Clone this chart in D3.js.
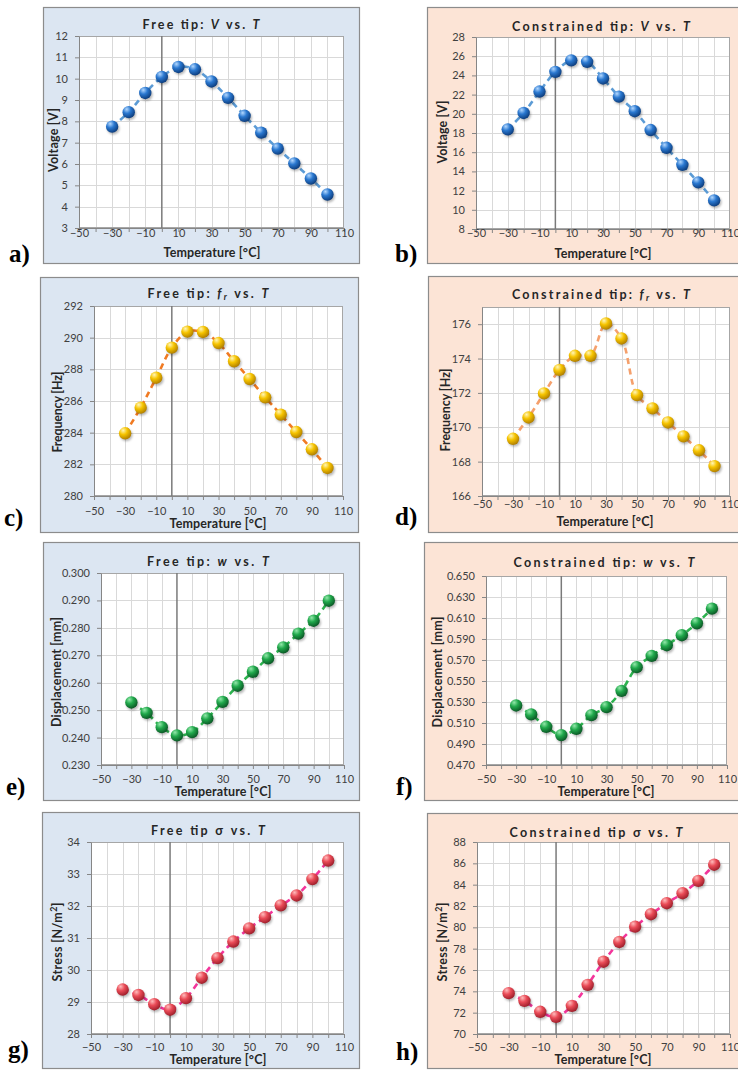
<!DOCTYPE html>
<html><head><meta charset="utf-8">
<script src="https://cdn.jsdelivr.net/npm/d3@7"></script>
<style>
body{margin:0;background:#fff}
svg{display:block}
</style>
</head><body>
<svg id="c" width="738" height="1075" font-family="Lato, 'Open Sans', sans-serif"></svg>
<script>
// ---------------- data ----------------
const temps = [-30,-20,-10,0,10,20,30,40,50,60,70,80,90,100];
const xTickLabels = [-50,-30,-10,10,30,50,70,90,110];
const xMinorTicks = [-50,-40,-30,-20,-10,0,10,20,30,40,50,60,70,80,90,100,110];

const voltFree = [7.75,8.43,9.33,10.08,10.55,10.44,9.87,9.10,8.26,7.47,6.72,6.03,5.32,4.57];
const voltCon  = [18.38,20.09,22.32,24.37,25.57,25.42,23.68,21.79,20.27,18.31,16.46,14.68,12.86,10.98];
const freqFree = [283.96,285.58,287.47,289.37,290.38,290.36,289.66,288.51,287.39,286.23,285.14,284.04,282.95,281.77];
const freqCon  = [169.33,170.57,171.97,173.34,174.16,174.16,176.04,175.17,171.87,171.10,170.28,169.47,168.66,167.74];
const dispFree = [0.2528,0.2490,0.2438,0.2408,0.2420,0.2470,0.2530,0.2589,0.2640,0.2689,0.2729,0.2779,0.2826,0.2899];
const dispCon  = [0.5267,0.5182,0.5064,0.4985,0.5045,0.5175,0.5251,0.5406,0.5632,0.5739,0.5841,0.5936,0.6050,0.6189];
const stressFree = [29.39,29.22,28.93,28.76,29.12,29.76,30.37,30.89,31.30,31.65,32.02,32.33,32.84,33.42];
const stressCon  = [73.83,73.11,72.08,71.61,72.64,74.61,76.78,78.63,80.07,81.23,82.26,83.20,84.36,85.87];

const voltFreeTicks = [3,4,5,6,7,8,9,10,11,12];
const voltConTicks  = [8,10,12,14,16,18,20,22,24,26,28];
const freqFreeTicks = [280,282,284,286,288,290,292];
const freqConTicks  = [166,168,170,172,174,176];
const dispFreeTicks = [0.230,0.240,0.250,0.260,0.270,0.280,0.290,0.300];
const dispConTicks  = [0.470,0.490,0.510,0.530,0.550,0.570,0.590,0.610,0.630,0.650];
const stressFreeTicks = [28,29,30,31,32,33,34];
const stressConTicks  = [70,72,74,76,78,80,82,84,86,88];

const panelLetters = ["a)","b)","c)","d)","e)","f)","g)","h)"];
const xTitle = "Temperature [°C]";

// ---------------- layout / style ----------------
const BLUE_BG = "#dce6f2", PEACH_BG = "#fce4d6";
const schemes = {
  blue:   {hi:"#b3d8ff", mid:"#2a78d0", dark:"#0c3c7c"},
  yellow: {hi:"#fff6b8", mid:"#f6c400", dark:"#b07e00"},
  green:  {hi:"#93e8aa", mid:"#20a84b", dark:"#0a5725"},
  red:    {hi:"#ffbcbc", mid:"#ea4b57", dark:"#9e1e2a"}
};

const panels = [
  {vals:voltFree, ticks:voltFreeTicks, dom:[3,12], fmt:"d", bg:BLUE_BG, sch:"blue", line:"#5b9bd5",
   title:[["Free tip: "],["V","i"],[" vs. "],["T","i"]], tx:201, ty:29, tw:117,
   ylab:[["Voltage [V]"]], ylw:64, box:[43,7,359,263], plot:[79,36,344,228],
   lblY:237, xtY:257, xtX:212, ytX:53, ytY:140, letter:[9,262]},
  {vals:voltCon, ticks:voltConTicks, dom:[8,28], fmt:"d", bg:PEACH_BG, sch:"blue", line:"#5b9bd5",
   title:[["Constrained tip: "],["V","i"],[" vs. "],["T","i"]], tx:601, ty:31, tw:178,
   ylab:[["Voltage [V]"]], ylw:63, box:[427,7,775,263], plot:[476,37,730,229],
   lblY:237, xtY:258, xtX:603, ytX:442, ytY:132, letter:[395,262]},
  {vals:freqFree, ticks:freqFreeTicks, dom:[280,292], fmt:"d", bg:BLUE_BG, sch:"yellow", line:"#f07a22",
   title:[["Free tip: "],["f","i"],["r","sub"],[" vs. "],["T","i"]], tx:208, ty:298, tw:121,
   ylab:[["Frequency [Hz]"]], ylw:81, box:[40,277,358,532], plot:[94,306,343,496],
   lblY:515, xtY:528, xtX:218, ytX:57, ytY:412, letter:[4,526]},
  {vals:freqCon, ticks:freqConTicks, dom:[166,177], fmt:"d", bg:PEACH_BG, sch:"yellow", line:"#f5a06c",
   title:[["Constrained tip: "],["f","i"],["r","sub"],[" vs. "],["T","i"]], tx:601, ty:299, tw:178,
   ylab:[["Frequency [Hz]"]], ylw:83, box:[428,276,775,532], plot:[482,307,730,496],
   lblY:507.5, xtY:526, xtX:605, ytX:445, ytY:410, letter:[395,525]},
  {vals:dispFree, ticks:dispFreeTicks, dom:[0.23,0.30], fmt:".3f", bg:BLUE_BG, sch:"green", line:"#2db34f",
   title:[["Free tip: "],["w","i"],[" vs. "],["T","i"]], tx:208, ty:566, tw:122,
   ylab:[["Displacement [mm]"]], ylw:110, box:[43,542,359,800], plot:[101,573,344,765],
   lblY:782.5, xtY:795.5, xtX:223, ytX:56, ytY:672, letter:[6,795]},
  {vals:dispCon, ticks:dispConTicks, dom:[0.47,0.65], fmt:".3f", bg:PEACH_BG, sch:"green", line:"#2db34f",
   title:[["Constrained tip: "],["w","i"],[" vs. "],["T","i"]], tx:604, ty:567, tw:181,
   ylab:[["Displacement [mm]"]], ylw:111, box:[424,542,775,800], plot:[486,576,727,765],
   lblY:782.5, xtY:795.5, xtX:606, ytX:437, ytY:672, letter:[396,795]},
  {vals:stressFree, ticks:stressFreeTicks, dom:[28,34], fmt:"d", bg:BLUE_BG, sch:"red", line:"#f3359b",
   title:[["Free tip σ vs. "],["T","i"]], tx:208, ty:835, tw:114,
   ylab:[["Stress [N/m"],["2","sup"],["]"]], ylw:79, box:[42,812,359,1068], plot:[91,842,344,1034],
   lblY:1051, xtY:1064, xtX:218, ytX:57, ytY:942, letter:[8,1058]},
  {vals:stressCon, ticks:stressConTicks, dom:[70,88], fmt:"d", bg:PEACH_BG, sch:"red", line:"#f3359b",
   title:[["Constrained tip σ vs. "],["T","i"]], tx:596, ty:837, tw:173,
   ylab:[["Stress [N/m"],["2","sup"],["]"]], ylw:79, box:[427,813,775,1068], plot:[477,842,730,1034],
   lblY:1051, xtY:1064, xtX:603, ytX:442, ytY:942, letter:[396,1060]}
];

// ---------------- drawing ----------------
const SANS = "Lato, 'Open Sans', sans-serif";
const svg = d3.select("#c");
const defs = svg.append("defs");
Object.entries(schemes).forEach(([k,s])=>{
  const gr = defs.append("radialGradient").attr("id","g-"+k)
    .attr("cx","36%").attr("cy","30%").attr("r","72%").attr("fx","34%").attr("fy","26%");
  gr.append("stop").attr("offset","0%").attr("stop-color",s.hi);
  gr.append("stop").attr("offset","45%").attr("stop-color",s.mid);
  gr.append("stop").attr("offset","100%").attr("stop-color",s.dark);
});
defs.append("filter").attr("id","shadow").attr("x","-50%").attr("y","-50%").attr("width","200%").attr("height","200%")
  .append("feGaussianBlur").attr("stdDeviation",1.1);

function addRich(textSel, parts, size){
  parts.forEach(p=>{
    const ts = textSel.append("tspan").text(p[0]);
    if(p[1]==="i") ts.attr("font-style","italic");
    if(p[1]==="sub") ts.attr("font-style","italic").attr("font-size",size*0.7).attr("baseline-shift","-20%");
    if(p[1]==="sup") ts.attr("font-size",size*0.7).attr("baseline-shift","super");
  });
}

panels.forEach((P,idx)=>{
  const g = svg.append("g");
  const [bx0,by0,bx1,by1] = P.box;
  const [pl,pt,pr,pb] = P.plot;
  g.append("rect").attr("x",bx0+0.5).attr("y",by0+0.5).attr("width",bx1-bx0).attr("height",by1-by0)
    .attr("fill",P.bg).attr("stroke","#8c8c8c").attr("stroke-width",1.2);
  g.append("rect").attr("x",pl).attr("y",pt).attr("width",pr-pl).attr("height",pb-pt).attr("fill","#fff");

  const x = d3.scaleLinear().domain([-50,110]).range([pl,pr]);
  const y = d3.scaleLinear().domain(P.dom).range([pb,pt]);

  // grid
  g.append("g").selectAll("line").data(xMinorTicks.filter(v=>v>-50&&v<110&&v!==0)).join("line")
    .attr("x1",d=>Math.round(x(d))+0.5).attr("x2",d=>Math.round(x(d))+0.5).attr("y1",pt).attr("y2",pb)
    .attr("stroke","#d9d9d9").attr("stroke-width",1);
  g.append("g").selectAll("line").data(P.ticks.filter(v=>v>P.dom[0])).join("line")
    .attr("x1",pl).attr("x2",pr).attr("y1",d=>Math.round(y(d))+0.5).attr("y2",d=>Math.round(y(d))+0.5)
    .attr("stroke","#d9d9d9").attr("stroke-width",1);
  // plot border
  g.append("rect").attr("x",pl+0.5).attr("y",pt+0.5).attr("width",pr-pl-1).attr("height",pb-pt-1)
    .attr("fill","none").attr("stroke","#a6a6a6");
  // zero line
  g.append("line").attr("x1",x(0)).attr("x2",x(0)).attr("y1",pt).attr("y2",pb)
    .attr("stroke","#7a7a7a").attr("stroke-width",1.5);

  // x axis (minor ticks)
  const xa = g.append("g").attr("transform",`translate(0,${pb})`)
    .call(d3.axisBottom(x).tickValues(xMinorTicks).tickSize(4).tickSizeOuter(0).tickFormat(""));
  xa.select(".domain").attr("stroke","#868686");
  xa.selectAll(".tick line").attr("stroke","#868686");
  // x axis labels
  const xl = g.append("g").attr("transform",`translate(0,${pb})`)
    .call(d3.axisBottom(x).tickValues(xTickLabels).tickSize(0).tickFormat(d3.format("d")));
  xl.select(".domain").remove();
  xl.attr("font-family",SANS).attr("font-size",11);
  xl.selectAll("text").attr("y",P.lblY-pb).attr("dy",0).attr("fill","#404040");

  // y axis
  const ya = g.append("g").attr("transform",`translate(${pl},0)`)
    .call(d3.axisLeft(y).tickValues(P.ticks).tickSize(4).tickSizeOuter(0).tickPadding(7).tickFormat(d3.format(P.fmt)));
  ya.attr("font-family",SANS).attr("font-size",11);
  ya.select(".domain").attr("stroke","#868686");
  ya.selectAll(".tick line").attr("stroke","#868686");
  ya.selectAll("text").attr("fill","#404040");

  // series line
  const line = d3.line().x((d,i)=>x(temps[i])).y(d=>y(d)).curve(d3.curveCatmullRom.alpha(0.5));
  g.append("path").datum(P.vals).attr("d",line).attr("fill","none")
    .attr("stroke",P.line).attr("stroke-width",2.6).attr("stroke-dasharray","6,4.5");

  // markers
  g.append("g").selectAll("circle").data(P.vals).join("circle")
    .attr("cx",(d,i)=>x(temps[i])+1.2).attr("cy",d=>y(d)+1.8).attr("r",6.2)
    .attr("fill","rgba(0,0,0,0.28)").attr("filter","url(#shadow)");
  g.append("g").selectAll("circle").data(P.vals).join("circle")
    .attr("cx",(d,i)=>x(temps[i])).attr("cy",d=>y(d)).attr("r",6.2)
    .attr("fill",`url(#g-${P.sch})`);

  // title
  const tt = g.append("text").attr("x",P.tx).attr("y",P.ty).attr("text-anchor","middle")
    .attr("font-family",SANS).attr("font-size",12.5).attr("font-weight","bold").attr("fill","#262626")
    .attr("textLength",P.tw).attr("lengthAdjust","spacing");
  addRich(tt,P.title,12.5);

  // axis titles
  g.append("text").attr("x",P.xtX).attr("y",P.xtY).attr("text-anchor","middle")
    .attr("font-family",SANS).attr("font-size",12.5).attr("font-weight","bold").attr("fill","#262626")
    .attr("textLength",97).attr("lengthAdjust","spacing").text(xTitle);
  const yt = g.append("text").attr("transform",`translate(${P.ytX},${P.ytY}) rotate(-90)`)
    .attr("text-anchor","middle").attr("dy","0.36em")
    .attr("font-family",SANS).attr("font-size",12.5).attr("font-weight","bold").attr("fill","#262626")
    .attr("textLength",P.ylw).attr("lengthAdjust","spacing");
  addRich(yt,P.ylab,12.5);

  // panel letter
  g.append("text").attr("x",P.letter[0]).attr("y",P.letter[1])
    .attr("font-family","'Liberation Serif', 'Times New Roman', serif").attr("font-weight","bold")
    .attr("font-size",25).attr("fill","#000").text(panelLetters[idx]);
});
</script>
</body></html>
